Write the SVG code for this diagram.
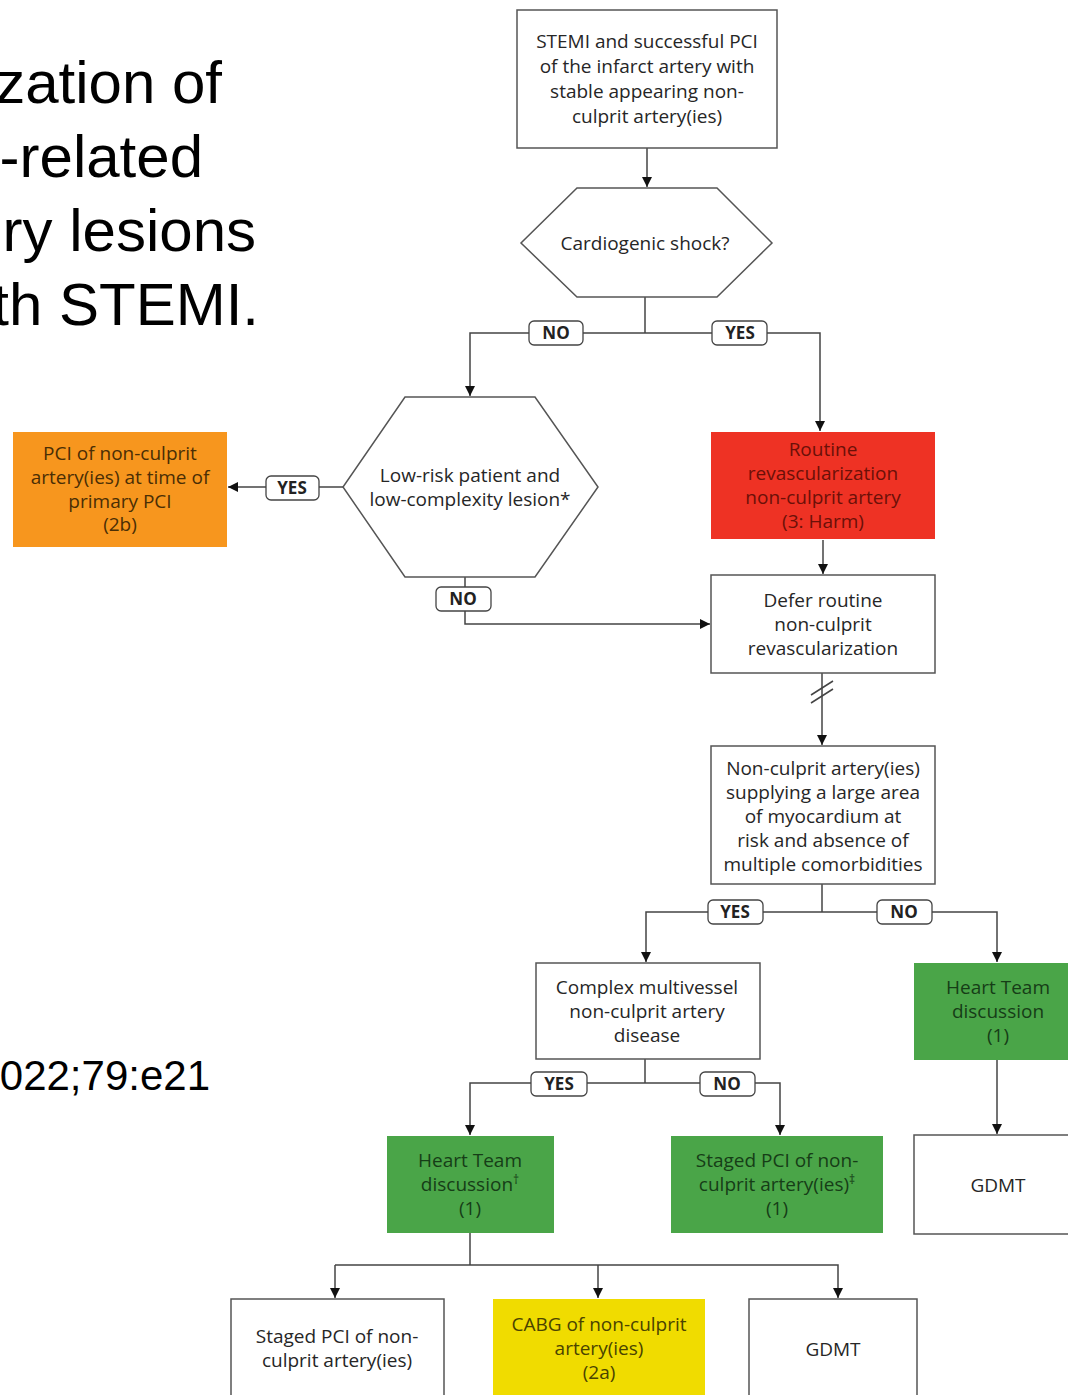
<svg xmlns="http://www.w3.org/2000/svg" width="1068" height="1395" viewBox="0 0 1068 1395">
<defs>
<marker id="arr" viewBox="0 0 10 10" refX="10" refY="5" markerWidth="10" markerHeight="10" markerUnits="userSpaceOnUse" orient="auto">
<path d="M0,0 L10,5 L0,10 Z" fill="#111"/>
</marker>
</defs>
<style>
.title{font-family:"Liberation Sans",Arial,sans-serif;font-size:60px;fill:#000}
.cite{font-family:"Liberation Sans",Arial,sans-serif;font-size:42px;fill:#000}
.box{fill:#fff;stroke:#555;stroke-width:1.5}
.t{font-family:"Open Sans","Noto Sans",sans-serif;font-size:19px;text-anchor:middle;fill:#262626}
.g{fill:#4aa548}
.gt{fill:#163d17}
.red{fill:#ee3224}
.rt{fill:#6b1008}
.or{fill:#f7961e}
.ot{fill:#4a2e05}
.ye{fill:#f0dc00}
.yt{fill:#4a4300}
.lab rect{fill:#fff;stroke:#444;stroke-width:1.3}
.lab text{font-family:"Open Sans","Noto Sans",sans-serif;font-size:17px;font-weight:bold;text-anchor:middle;fill:#222}
.c{fill:none;stroke:#444;stroke-width:1.5}
</style>
<rect width="1068" height="1395" fill="#fff"/>
<g id="title">
<text class="title" x="222" y="103" text-anchor="end">zation of</text>
<text class="title" x="203" y="177" text-anchor="end">-related</text>
<text class="title" x="256" y="251" text-anchor="end">ry lesions</text>
<text class="title" x="259" y="325" text-anchor="end">th STEMI.</text>
</g>
<g id="citation"><text class="cite" x="210" y="1090" text-anchor="end">022;79:e21</text></g>

<g id="connectors">
<path class="c" d="M647,148 V187" marker-end="url(#arr)"/>
<path class="c" d="M645,297 V333"/>
<path class="c" d="M645,333 H470 V396" marker-end="url(#arr)"/>
<path class="c" d="M645,333 H820 V431" marker-end="url(#arr)"/>
<path class="c" d="M343,487 H228" marker-end="url(#arr)"/>
<path class="c" d="M465,577 V624 H710" marker-end="url(#arr)"/>
<path class="c" d="M823,540 V574" marker-end="url(#arr)"/>
<path class="c" d="M822,673 V745" marker-end="url(#arr)"/>
<path class="c" d="M811,695 L833,681 M811,703 L833,689"/>
<path class="c" d="M822,884 V912"/>
<path class="c" d="M822,912 H646 V962" marker-end="url(#arr)"/>
<path class="c" d="M822,912 H997 V962" marker-end="url(#arr)"/>
<path class="c" d="M997,1060 V1134" marker-end="url(#arr)"/>
<path class="c" d="M645,1059 V1083"/>
<path class="c" d="M645,1083 H470 V1135" marker-end="url(#arr)"/>
<path class="c" d="M645,1083 H780 V1135" marker-end="url(#arr)"/>
<path class="c" d="M470,1233 V1265"/>
<path class="c" d="M335,1265 H838 V1298" marker-end="url(#arr)"/>
<path class="c" d="M335,1265 V1298" marker-end="url(#arr)"/>
<path class="c" d="M598,1265 V1298" marker-end="url(#arr)"/>
<g class="lab">
<rect x="529" y="321" width="54" height="24" rx="5"/><text x="556" y="339">NO</text>
<rect x="712" y="321" width="55" height="24" rx="5"/><text x="740" y="339">YES</text>
<rect x="266" y="476" width="53" height="24" rx="5"/><text x="292" y="494">YES</text>
<rect x="436" y="587" width="55" height="24" rx="5"/><text x="463" y="605">NO</text>
<rect x="708" y="900" width="55" height="24" rx="5"/><text x="735" y="918">YES</text>
<rect x="877" y="900" width="55" height="24" rx="5"/><text x="904" y="918">NO</text>
<rect x="531" y="1072" width="56" height="24" rx="5"/><text x="559" y="1090">YES</text>
<rect x="700" y="1072" width="55" height="24" rx="5"/><text x="727" y="1090">NO</text>
</g>
</g>

<g id="n-start">
<rect class="box" x="517" y="10" width="260" height="138"/>
<text class="t" x="647" y="48">STEMI and successful PCI</text>
<text class="t" x="647" y="73">of the infarct artery with</text>
<text class="t" x="647" y="98">stable appearing non-</text>
<text class="t" x="647" y="123">culprit artery(ies)</text>
</g>
<g id="n-shock">
<polygon class="box" points="577,188 717,188 772,243 717,297 577,297 521,243"/>
<text class="t" x="645" y="250">Cardiogenic shock?</text>
</g>
<g id="n-lowrisk">
<polygon class="box" points="405,397 535,397 598,487 535,577 405,577 343,487"/>
<text class="t" x="470" y="482">Low-risk patient and</text>
<text class="t" x="470" y="506">low-complexity lesion*</text>
</g>
<g id="n-pci-primary">
<rect class="or" x="13" y="432" width="214" height="115"/>
<text class="t ot" x="120" y="460">PCI of non-culprit</text>
<text class="t ot" x="120" y="484">artery(ies) at time of</text>
<text class="t ot" x="120" y="508">primary PCI</text>
<text class="t ot" x="120" y="531">(2b)</text>
</g>
<g id="n-routine">
<rect class="red" x="711" y="432" width="224" height="107"/>
<text class="t rt" x="823" y="456">Routine</text>
<text class="t rt" x="823" y="480">revascularization</text>
<text class="t rt" x="823" y="504">non-culprit artery</text>
<text class="t rt" x="823" y="528">(3: Harm)</text>
</g>
<g id="n-defer">
<rect class="box" x="711" y="575" width="224" height="98"/>
<text class="t" x="823" y="607">Defer routine</text>
<text class="t" x="823" y="631">non-culprit</text>
<text class="t" x="823" y="655">revascularization</text>
</g>
<g id="n-nonculprit">
<rect class="box" x="711" y="746" width="224" height="138"/>
<text class="t" x="823" y="775">Non-culprit artery(ies)</text>
<text class="t" x="823" y="799">supplying a large area</text>
<text class="t" x="823" y="823">of myocardium at</text>
<text class="t" x="823" y="847">risk and absence of</text>
<text class="t" x="823" y="871">multiple comorbidities</text>
</g>
<g id="n-complex">
<rect class="box" x="536" y="963" width="224" height="96"/>
<text class="t" x="647" y="994">Complex multivessel</text>
<text class="t" x="647" y="1018">non-culprit artery</text>
<text class="t" x="647" y="1042">disease</text>
</g>
<g id="n-heart-right">
<rect class="g" x="914" y="963" width="160" height="97"/>
<text class="t gt" x="998" y="994">Heart Team</text>
<text class="t gt" x="998" y="1018">discussion</text>
<text class="t gt" x="998" y="1042">(1)</text>
</g>
<g id="n-gdmt-right">
<rect class="box" x="914" y="1135" width="160" height="99"/>
<text class="t" x="998" y="1192">GDMT</text>
</g>
<g id="n-heart-left">
<rect class="g" x="387" y="1136" width="167" height="97"/>
<text class="t gt" x="470" y="1167">Heart Team</text>
<text class="t gt" x="470" y="1191">discussion<tspan dy="-7" font-size="12">†</tspan></text>
<text class="t gt" x="470" y="1215">(1)</text>
</g>
<g id="n-staged-green">
<rect class="g" x="671" y="1136" width="212" height="97"/>
<text class="t gt" x="777" y="1167">Staged PCI of non-</text>
<text class="t gt" x="777" y="1191">culprit artery(ies)<tspan dy="-7" font-size="12">‡</tspan></text>
<text class="t gt" x="777" y="1215">(1)</text>
</g>
<g id="n-staged-white">
<rect class="box" x="231" y="1299" width="213" height="110"/>
<text class="t" x="337" y="1343">Staged PCI of non-</text>
<text class="t" x="337" y="1367">culprit artery(ies)</text>
</g>
<g id="n-cabg">
<rect class="ye" x="493" y="1299" width="212" height="110"/>
<text class="t yt" x="599" y="1331">CABG of non-culprit</text>
<text class="t yt" x="599" y="1355">artery(ies)</text>
<text class="t yt" x="599" y="1379">(2a)</text>
</g>
<g id="n-gdmt-bottom">
<rect class="box" x="749" y="1299" width="168" height="110"/>
<text class="t" x="833" y="1356">GDMT</text>
</g>
</svg>
